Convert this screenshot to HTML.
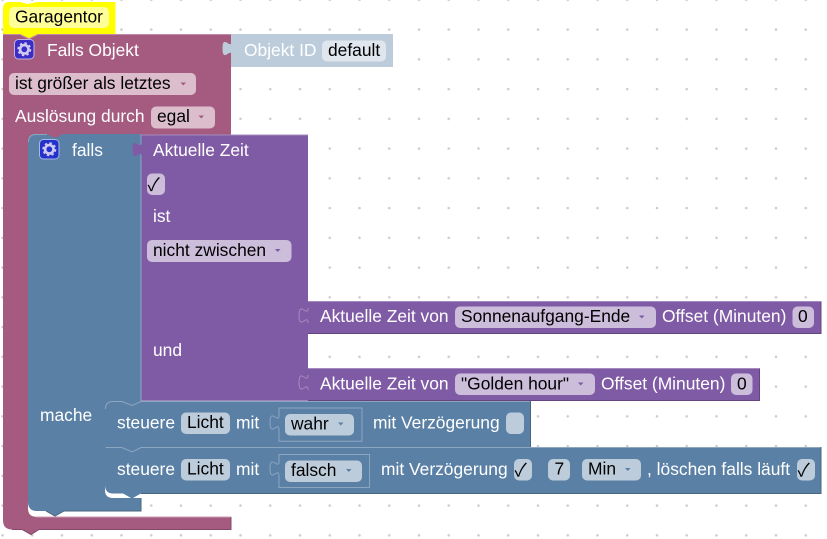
<!DOCTYPE html>
<html><head><meta charset="utf-8"><style>
html,body{margin:0;padding:0;background:#fff;width:827px;height:539px;overflow:hidden}
svg{display:block}
text{font-family:"Liberation Sans",Arial,sans-serif;font-size:17.4px;fill:#fff;white-space:pre}
text.d{fill:#000}
text.c{fill:#000;font-family:"Noto Sans CJK JP","DejaVu Sans",sans-serif;font-size:18px}
</style></head><body>
<svg width="827" height="539" viewBox="0 0 827 539" xmlns="http://www.w3.org/2000/svg">
<defs>
<pattern id="dots" x="2.5" y="-0.2" width="29.75" height="29.75" patternUnits="userSpaceOnUse">
<circle cx="0" cy="0" r="1.3" fill="#ccc"/><circle cx="29.75" cy="0" r="1.3" fill="#ccc"/><circle cx="0" cy="29.75" r="1.3" fill="#ccc"/><circle cx="29.75" cy="29.75" r="1.3" fill="#ccc"/>
</pattern>
<g id="gear"><circle cx="0" cy="0" r="4.2" fill="none" stroke="#cfc9f2" stroke-width="2.6"/><circle cx="0" cy="0" r="6" fill="none" stroke="#cfc9f2" stroke-width="2" stroke-dasharray="2.4 2.3"/></g>
</defs>
<rect width="827" height="539" fill="url(#dots)"/>

<!-- comment -->
<path d="M3 9Q3 2 9 2H20L28 4L37 2H115.500V34H38V39H20V34H3Z" fill="#ffff00"/>
<rect x="9" y="7" width="100" height="21" rx="5" fill="#ffff99"/>
<text class="d" x="15" y="22.500">Garagentor</text>

<!-- Outer pink block -->
<rect x="28" y="134" width="42" height="10" fill="#a55b80"/>
<path d="M3 34H20L29 38.500L38 34H231V135H28V508Q28 516.700 36 516.700H231V529.500H39L31 534.500L22 529.500H12Q3 529.500 3 520Z" fill="#a55b80"/>
<path d="M3 34.500H20L29 39L38 34.500H231" fill="none" stroke="#c08aa6" stroke-width="1"/>
<path d="M36 517.200H231" stroke="#bd86a2" stroke-width="1"/>
<path d="M231 517V529.500H39L31 534.500L22 529.500H12" fill="none" stroke="#84496a" stroke-width="1"/>
<rect x="14.500" y="39.500" width="19.500" height="19.500" rx="4" fill="#3a2cc4" stroke="#c2b2e0" stroke-width="1"/>
<use href="#gear" x="24.300" y="49.300"/>
<text x="47" y="56">Falls Objekt</text>
<rect x="9" y="73" width="187" height="22" rx="5" fill="#dbbdcc"/>
<text class="d" x="15" y="89">ist größer als letztes</text>
<path d="M180.500 82.500h5.500l-2.750 3z" fill="#a55b80"/>
<text x="15" y="122">Auslösung durch</text>
<rect x="151" y="106.500" width="64" height="22" rx="5" fill="#dbbdcc"/>
<text class="d" x="157" y="122">egal</text>
<path d="M198.500 115.500h5.500l-2.750 3z" fill="#a55b80"/>

<!-- Objekt ID -->
<path d="M231 34H393V67H231Z" fill="#bdccdb"/>
<path d="M231.500 41c0,10 -9,-8 -9,7.500s9,-2.500 9,7.500Z" fill="#bdccdb"/>
<text x="244" y="56">Objekt ID</text>
<rect x="322" y="40.500" width="64" height="21" rx="5" fill="#e0e6ee"/>
<text class="d" x="328" y="56">default</text>

<!-- Purple block -->
<path d="M141 134.500H308V400.800H141Z" fill="#805ba5"/>
<path d="M141 135H308" stroke="#a58bc0" stroke-width="1"/>
<text x="153" y="156">Aktuelle Zeit</text>
<rect x="147" y="173.500" width="18" height="21.500" rx="5" fill="#ccbddb"/>
<text class="c" x="147.500" y="191">✓</text>
<text x="153" y="222">ist</text>
<rect x="147" y="240" width="144.500" height="22" rx="5" fill="#ccbddb"/>
<text class="d" x="153" y="256">nicht zwischen</text>
<path d="M275 249h5.500l-2.750 3z" fill="#805ba5"/>
<text x="153" y="356">und</text>

<!-- Purple value 1 -->
<path d="M308 301.500H821V333.500H308Z" fill="#805ba5"/>
<path d="M308 301.500H821" stroke="#a58bc0" stroke-width="1"/>
<path d="M308 333.500H821V301.500" fill="none" stroke="#64457f" stroke-width="1"/>
<path d="M308 308c0,10 -9,-8 -9,7.500s9,-2.500 9,7.500" fill="#805ba5" stroke="#a58bc0" stroke-width="1"/>
<text x="320" y="322">Aktuelle Zeit von</text>
<rect x="455" y="306.500" width="201" height="21.500" rx="5" fill="#ccbddb"/>
<text class="d" x="461" y="322">Sonnenaufgang-Ende</text>
<path d="M639 315.500h5.500l-2.750 3z" fill="#805ba5"/>
<text x="662" y="322">Offset (Minuten)</text>
<rect x="792.500" y="306.500" width="21.500" height="21.500" rx="5" fill="#ccbddb"/>
<text class="d" x="798" y="322">0</text>

<!-- Purple value 2 -->
<path d="M308 368H759.500V400.800H308Z" fill="#805ba5"/>
<path d="M308 368.500H759.500" stroke="#a58bc0" stroke-width="1"/>
<path d="M308 400.500H759.500V368.500" fill="none" stroke="#64457f" stroke-width="1"/>
<path d="M308 375c0,10 -9,-8 -9,7.500s9,-2.500 9,7.500" fill="#805ba5" stroke="#a58bc0" stroke-width="1"/>
<text x="320" y="389.500">Aktuelle Zeit von</text>
<rect x="455" y="373.500" width="140" height="21.500" rx="5" fill="#ccbddb"/>
<text class="d" x="461" y="389.500">"Golden hour"</text>
<path d="M578 382.500h5.500l-2.750 3z" fill="#805ba5"/>
<text x="601" y="389.500">Offset (Minuten)</text>
<rect x="731" y="373.500" width="21.500" height="21.500" rx="5" fill="#ccbddb"/>
<text class="d" x="737" y="389.500">0</text>

<!-- Blue "falls" block -->
<path d="M36 134H47L55 138L63 134H141V402H105V490Q105 498 113 498H141V511H64L55 516L46 511H37Q28 511 28 502V142Q28 134 36 134Z" fill="#5b80a5"/>
<rect x="105" y="400" width="10" height="12" fill="#5b80a5"/>
<path d="M141 134.500V402" stroke="#8ca6c0" stroke-width="1"/>
<path d="M28.500 142Q28.500 134.500 36 134.500H47" fill="none" stroke="#8ca6c0" stroke-width="1"/>
<path d="M141 498V511H64L55 516L46 511" fill="none" stroke="#48667f" stroke-width="1"/>
<rect x="39.500" y="139.500" width="19.500" height="19.500" rx="4" fill="#2233cc" stroke="#a9b6e6" stroke-width="1"/>
<use href="#gear" x="49.300" y="149.300"/>
<text x="72" y="156">falls</text>
<path d="M141.500 142c0,10 -9,-8 -9,7.500s9,-2.500 9,7.500Z" fill="#805ba5"/>
<text x="40" y="421">mache</text>

<!-- steuere 1 -->
<path d="M113 401H531V447H105V409Q105 401 113 401Z" fill="#5b80a5"/>
<path d="M105.500 409Q105.500 401.500 113 401.500H122L132 405.500L141 401.500H531" fill="none" stroke="#8ca6c0" stroke-width="1"/>
<path d="M530.500 401V447" stroke="#48667f" stroke-width="1"/>
<text x="117" y="428.500">steuere</text>
<rect x="181" y="412.500" width="49" height="21.500" rx="5" fill="#bdccdb"/>
<text class="d" x="187" y="428">Licht</text>
<text x="236" y="428.500">mit</text>
<path d="M279 408H362V441H279Z" fill="#5b80a5"/>
<path d="M279 415c0,10 -9,-8 -9,7.500s9,-2.500 9,7.500V441.300H362V408H279Z" fill="#5b80a5" stroke="#8ca6c0" stroke-width="1"/>
<rect x="285" y="414" width="69" height="21.500" rx="5" fill="#bdccdb"/>
<text class="d" x="291" y="429.500">wahr</text>
<path d="M338 422.500h5.500l-2.750 3z" fill="#5b80a5"/>
<text x="373" y="428.500">mit Verzögerung</text>
<rect x="506" y="412.500" width="18" height="21.500" rx="5" fill="#bdccdb"/>

<!-- steuere 2 -->
<path d="M105 447H821V493.500H141L132 498.500L123 493.500H113Q105 493.500 105 485Z" fill="#5b80a5"/>
<path d="M105.500 447.500H122L132 452L141 447.500H821" fill="none" stroke="#8ca6c0" stroke-width="1"/>
<path d="M821 447V493.500H141" fill="none" stroke="#48667f" stroke-width="1"/>
<text x="117" y="475">steuere</text>
<rect x="181" y="459" width="49" height="21.500" rx="5" fill="#bdccdb"/>
<text class="d" x="187" y="474.500">Licht</text>
<text x="236" y="475">mit</text>
<path d="M279 461c0,10 -9,-8 -9,7.500s9,-2.500 9,7.500V487.500H369.500V454.500H279Z" fill="#5b80a5" stroke="#8ca6c0" stroke-width="1"/>
<rect x="285" y="460.500" width="77" height="21.500" rx="5" fill="#bdccdb"/>
<text class="d" x="291" y="476">falsch</text>
<path d="M346 469h5.500l-2.750 3z" fill="#5b80a5"/>
<text x="381" y="475">mit Verzögerung</text>
<rect x="514" y="459" width="18" height="21.500" rx="5" fill="#bdccdb"/>
<text class="c" x="514.500" y="476.500">✓</text>
<rect x="548" y="459" width="22" height="21.500" rx="5" fill="#bdccdb"/>
<text class="d" x="554.500" y="474.500">7</text>
<rect x="582" y="459" width="59" height="21.500" rx="5" fill="#bdccdb"/>
<text class="d" x="588" y="474.500">Min</text>
<path d="M625 468h5.500l-2.750 3z" fill="#5b80a5"/>
<text x="647" y="475">, löschen falls läuft</text>
<rect x="797" y="459" width="18" height="21.500" rx="5" fill="#bdccdb"/>
<text class="c" x="797.500" y="476.500">✓</text>
</svg>
</body></html>
